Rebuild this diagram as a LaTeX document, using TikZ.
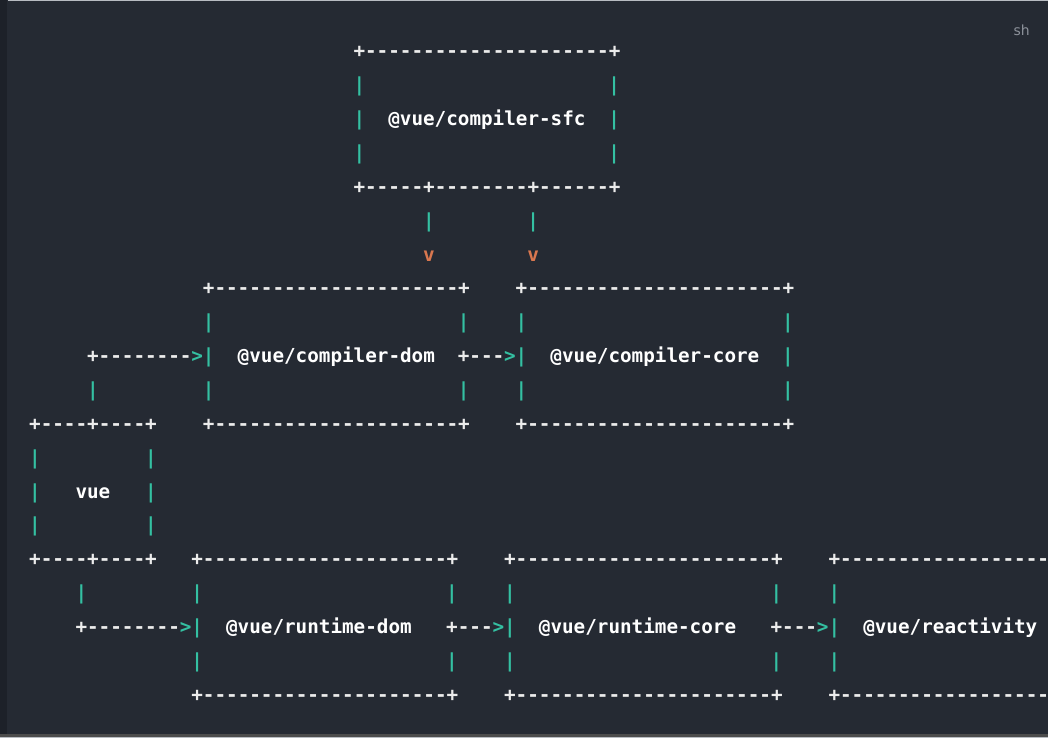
\documentclass[tikz,border=0pt]{standalone}
\usepackage{fontspec}
\setmonofont{DejaVu Sans Mono}
\newfontfamily\uisans{DejaVu Sans}
\definecolor{bg}{HTML}{252A33}
\definecolor{bgdark}{HTML}{1D2129}
\definecolor{edge}{HTML}{B8BCC2}
\definecolor{tealc}{HTML}{34C0A2}
\definecolor{orangec}{HTML}{D9774F}
\definecolor{whitec}{HTML}{ECECEC}
\definecolor{labelc}{HTML}{8C919A}
\begin{document}
\begin{tikzpicture}[x=11.6pt,y=-33.9pt,
  every node/.style={inner sep=0pt,outer sep=0pt,anchor=base west,font=\ttfamily\bfseries\fontsize{19.3}{21}\selectfont},
  wt/.style={text=whitec},
  tl/.style={text=tealc},
  orv/.style={text=orangec},
  lbl/.style={text=white}]
% background and frame
\fill[bg] (-29.2pt,58pt) rectangle (1019.8pt,-681pt);
\fill[bgdark] (-29.2pt,58pt) rectangle (-22.2pt,-681pt);
\fill[edge] (-21.2pt,58pt) rectangle (1019.8pt,56.5pt);
\fill[black!70] (-29.2pt,-677pt) rectangle (1019.8pt,-679.5pt);
\fill[edge] (-29.2pt,-679.5pt) rectangle (1019.8pt,-681pt);
\node[text=labelc,font=\uisans\fontsize{14}{16}\selectfont,anchor=center] (lang) at (993.8pt,28pt) {sh};
% compiler-sfc box
\node[wt] (sfcTop) at (28,0) {+---------------------+};
\node[tl] (sfcL1) at (28,1) {|};
\node[tl] (sfcR1) at (50,1) {|};
\node[tl] (sfcL2) at (28,2) {|};
\node[lbl] (sfc) at (31,2) {@vue/compiler-sfc};
\node[tl] (sfcR2) at (50,2) {|};
\node[tl] (sfcL3) at (28,3) {|};
\node[tl] (sfcR3) at (50,3) {|};
\node[wt] (sfcBot) at (28,4) {+-----+--------+------+};
\node[tl] (sfcA1) at (34,5) {|};
\node[tl] (sfcA2) at (43,5) {|};
\node[orv] (sfcV1) at (34,6) {v};
\node[orv] (sfcV2) at (43,6) {v};
% compiler-dom and compiler-core boxes
\node[wt] (domTop) at (15,7) {+---------------------+};
\node[wt] (coreTop) at (42,7) {+----------------------+};
\node[tl] (domL1) at (15,8) {|};
\node[tl] (domR1) at (37,8) {|};
\node[tl] (coreL1) at (42,8) {|};
\node[tl] (coreR1) at (65,8) {|};
\node[wt] (vueDomLine) at (5,9) {+--------};
\node[tl] (vueDomHead) at (14,9) {>};
\node[tl] (domL2) at (15,9) {|};
\node[lbl] (cdom) at (18,9) {@vue/compiler-dom};
\node[wt] (domCoreLine) at (37,9) {+---};
\node[tl] (domCoreHead) at (41,9) {>};
\node[tl] (coreL2) at (42,9) {|};
\node[lbl] (ccore) at (45,9) {@vue/compiler-core};
\node[tl] (coreR2) at (65,9) {|};
\node[tl] (vueUp) at (5,10) {|};
\node[tl] (domL3) at (15,10) {|};
\node[tl] (domR3) at (37,10) {|};
\node[tl] (coreL3) at (42,10) {|};
\node[tl] (coreR3) at (65,10) {|};
\node[wt] (vueTop) at (0,11) {+----+----+};
\node[wt] (domBot) at (15,11) {+---------------------+};
\node[wt] (coreBot) at (42,11) {+----------------------+};
% vue box
\node[tl] (vueL1) at (0,12) {|};
\node[tl] (vueR1) at (10,12) {|};
\node[tl] (vueL2) at (0,13) {|};
\node[lbl] (vue) at (4,13) {vue};
\node[tl] (vueR2) at (10,13) {|};
\node[tl] (vueL3) at (0,14) {|};
\node[tl] (vueR3) at (10,14) {|};
\node[wt] (vueBot) at (0,15) {+----+----+};
% runtime boxes
\node[wt] (rdomTop) at (14,15) {+---------------------+};
\node[wt] (rcoreTop) at (41,15) {+----------------------+};
\node[wt] (reactTop) at (69,15) {+------------------};
\node[tl] (vueDown) at (4,16) {|};
\node[tl] (rdomL1) at (14,16) {|};
\node[tl] (rdomR1) at (36,16) {|};
\node[tl] (rcoreL1) at (41,16) {|};
\node[tl] (rcoreR1) at (64,16) {|};
\node[tl] (reactL1) at (69,16) {|};
\node[wt] (vueRdomLine) at (4,17) {+--------};
\node[tl] (vueRdomHead) at (13,17) {>};
\node[tl] (rdomL2) at (14,17) {|};
\node[lbl] (rdom) at (17,17) {@vue/runtime-dom};
\node[wt] (rdomRcoreLine) at (36,17) {+---};
\node[tl] (rdomRcoreHead) at (40,17) {>};
\node[tl] (rcoreL2) at (41,17) {|};
\node[lbl] (rcore) at (44,17) {@vue/runtime-core};
\node[wt] (rcoreReactLine) at (64,17) {+---};
\node[tl] (rcoreReactHead) at (68,17) {>};
\node[tl] (reactL2) at (69,17) {|};
\node[lbl] (react) at (72,17) {@vue/reactivity};
\node[tl] (rdomL3) at (14,18) {|};
\node[tl] (rdomR3) at (36,18) {|};
\node[tl] (rcoreL3) at (41,18) {|};
\node[tl] (rcoreR3) at (64,18) {|};
\node[tl] (reactL3) at (69,18) {|};
\node[wt] (rdomBot) at (14,19) {+---------------------+};
\node[wt] (rcoreBot) at (41,19) {+----------------------+};
\node[wt] (reactBot) at (69,19) {+------------------};
\useasboundingbox (-29.2pt,58pt) rectangle (1019.8pt,-681pt);
\end{tikzpicture}
\end{document}
